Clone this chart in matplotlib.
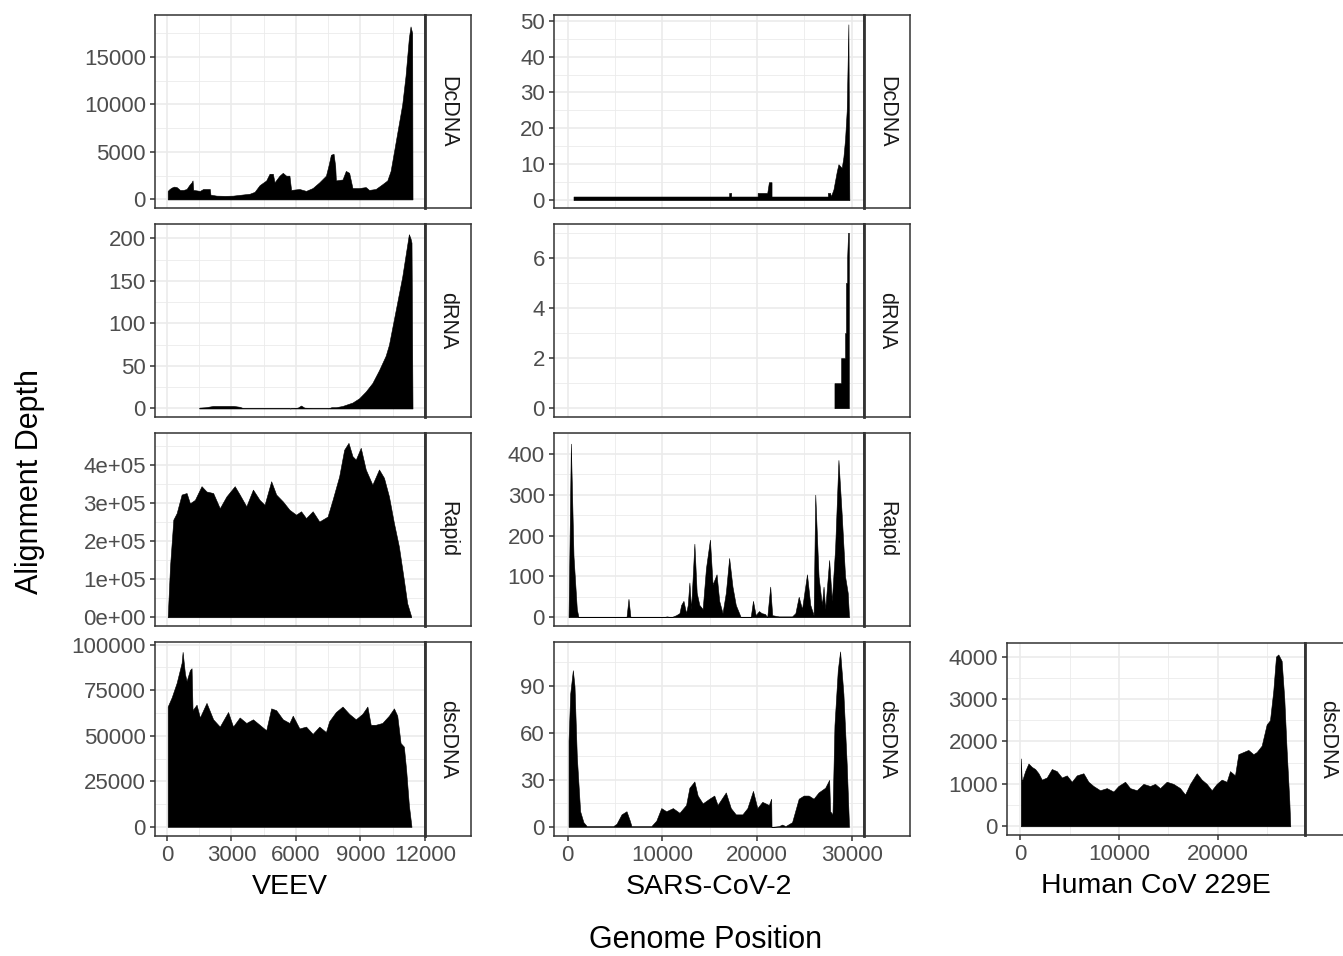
import numpy as np
import matplotlib
matplotlib.use("Agg")
import matplotlib.pyplot as plt
from matplotlib.ticker import FixedLocator

plt.rcParams['font.family'] = ['Liberation Sans', 'DejaVu Sans']

W, H = 1343, 956

# coverage: (genome position, alignment depth)
veev_dcdna = [(31, 900), (120, 1100), (216, 1250), (330, 1350), (448, 1300), (602, 1000),
              (760, 1000), (911, 1100), (1030, 1500), (1143, 1800), (1189, 2000), (1220, 1000),
              (1380, 950), (1529, 900), (1683, 1100), (1850, 1100), (1992, 1100), (2023, 500),
              (2301, 400), (2700, 380), (3073, 400), (3450, 500), (3846, 600), (4077, 800),
              (4309, 1500), (4618, 2000), (4772, 2700), (4927, 2700), (5004, 1800), (5236, 2500),
              (5390, 2800), (5544, 2500), (5699, 2500), (5776, 1000), (6162, 1100), (6471, 900),
              (6780, 1200), (7089, 1800), (7398, 2500), (7521, 3600), (7629, 4700), (7753, 4800),
              (7830, 3500), (7861, 2000), (8170, 2100), (8324, 3000), (8479, 2800), (8633, 1200),
              (8942, 1200), (9251, 1300), (9405, 1000), (9714, 1100), (10023, 1600), (10255, 2000),
              (10409, 3000), (10564, 5000), (10718, 7000), (10950, 10000), (11104, 13000),
              (11259, 17000), (11336, 18200), (11413, 17500), (11429, 0)]
veev_drna = [(1498, 1), (1800, 1.5), (2147, 3), (2700, 3), (3100, 3), (3382, 2), (3537, 0.5),
             (5699, 0.5), (5740, 0), (5776, 0.5), (6085, 1), (6239, 3.5), (6394, 1), (6780, 0.5),
             (7552, 0.5), (7650, 1.5), (7861, 1.5), (8170, 3), (8633, 7), (8942, 12), (9251, 20),
             (9560, 30), (9869, 45), (10178, 62), (10332, 75), (10486, 95), (10641, 115),
             (10795, 135), (10950, 155), (11104, 180), (11259, 205), (11336, 200), (11382, 195),
             (11429, 0)]
veev_rapid = [(31, 0), (139, 134e3), (293, 257e3), (448, 274e3), (680, 323e3), (911, 327e3),
              (1066, 300e3), (1297, 309e3), (1606, 345e3), (1838, 331e3), (2147, 327e3),
              (2456, 287e3), (2764, 318e3), (3151, 345e3), (3382, 323e3), (3691, 292e3),
              (4000, 336e3), (4309, 309e3), (4541, 296e3), (4849, 358e3), (5081, 323e3),
              (5390, 305e3), (5699, 283e3), (6008, 270e3), (6239, 279e3), (6471, 261e3),
              (6780, 279e3), (7089, 252e3), (7475, 265e3), (7707, 309e3), (8015, 371e3),
              (8247, 441e3), (8448, 459e3), (8633, 424e3), (8788, 415e3), (9019, 446e3),
              (9251, 389e3), (9560, 349e3), (9869, 389e3), (10100, 367e3), (10332, 318e3),
              (10564, 248e3), (10795, 186e3), (11027, 98e3), (11181, 37e3), (11367, 2e3)]
veev_dscdna = [(31, 66e3), (216, 71e3), (448, 79e3), (680, 90e3), (726, 96e3), (834, 84e3),
               (911, 80e3), (1066, 86e3), (1143, 87e3), (1189, 64e3), (1375, 67e3), (1529, 60e3),
               (1838, 68e3), (2147, 59e3), (2456, 55e3), (2842, 63e3), (3073, 55e3), (3382, 60e3),
               (3691, 57e3), (4000, 59e3), (4309, 56e3), (4618, 53e3), (4849, 65e3), (5081, 64e3),
               (5390, 59e3), (5699, 57e3), (5853, 61e3), (6162, 54e3), (6471, 55e3), (6780, 51e3),
               (7089, 55e3), (7398, 52e3), (7552, 58e3), (7861, 63e3), (8170, 66e3), (8479, 62e3),
               (8788, 59e3), (9096, 62e3), (9328, 66e3), (9483, 56e3), (9714, 56e3), (10023, 57e3),
               (10332, 61e3), (10564, 65e3), (10718, 61e3), (10873, 46e3), (11027, 44e3),
               (11135, 31e3), (11259, 12e3), (11382, 0)]

sars_dcdna = [(629, 1), (17063, 1), (17063, 2), (17273, 2), (17273, 1), (20070, 1), (20070, 2),
              (21084, 2), (21259, 5), (21538, 5), (21538, 1), (27483, 1), (27483, 2), (27727, 2),
              (27800, 1), (28077, 3), (28427, 8), (28601, 10), (28951, 9), (29126, 12),
              (29301, 17), (29476, 25), (29650, 49), (29755, 0)]
sars_drna = [(28180, 1), (28880, 1), (28880, 2), (29300, 2), (29300, 3), (29400, 3), (29400, 5),
             (29520, 5), (29520, 6), (29620, 7), (29700, 7), (29700, 0)]
sars_rapid = [(105, 0), (350, 425), (629, 150), (979, 20), (1154, 0), (6224, 0), (6434, 45),
              (6643, 0), (10070, 0), (10490, 2), (10944, 0), (11469, 5), (11818, 10), (11993, 30),
              (12238, 40), (12517, 10), (12692, 30), (12867, 85), (13042, 20), (13392, 180),
              (13636, 60), (13916, 30), (14266, 20), (14615, 120), (15035, 190), (15315, 80),
              (15734, 105), (16014, 40), (16364, 10), (16713, 60), (17063, 145), (17413, 75),
              (17762, 30), (18112, 10), (18287, 0), (19336, 0), (19580, 40), (19860, 5),
              (20210, 15), (20490, 10), (20839, 8), (21084, 0), (21399, 75), (21608, 5),
              (22308, 2), (23706, 2), (24056, 10), (24406, 50), (24755, 20), (25280, 105),
              (25629, 30), (25979, 5), (26154, 300), (26503, 100), (26853, 30), (27028, 75),
              (27203, 20), (27622, 140), (27902, 40), (28252, 170), (28601, 385), (28951, 250),
              (29301, 100), (29580, 60), (29720, 0)]
sars_dscdna = [(105, 55), (280, 85), (559, 100), (734, 90), (979, 45), (1329, 10), (1678, 3),
               (2028, 0.5), (4825, 0.5), (5175, 2), (5699, 8), (6224, 10), (6573, 4), (6748, 0.5),
               (8846, 0.5), (9371, 4), (9895, 12), (10420, 10), (11119, 12), (11818, 9),
               (12517, 14), (12867, 25), (13392, 29), (13741, 20), (14266, 15), (14965, 18),
               (15490, 20), (15839, 14), (16713, 22), (17238, 12), (17762, 8), (18462, 8),
               (18986, 12), (19580, 23), (20035, 12), (20559, 16), (21259, 14), (21503, 18),
               (21538, 0), (22308, 0.5), (22657, 1.5), (23007, 0.5), (23706, 3), (24406, 18),
               (24930, 20), (25455, 20), (25979, 18), (26503, 22), (27203, 25), (27622, 30),
               (27727, 10), (27972, 8), (28182, 65), (28531, 100), (28776, 112), (29126, 85),
               (29476, 40), (29720, 0)]

hcov_dscdna = [(67, 1600), (169, 1050), (506, 1300), (843, 1480), (1180, 1400), (1518, 1350),
               (1855, 1250), (2192, 1100), (2698, 1150), (3204, 1350), (3710, 1300), (4216, 1150),
               (4722, 1200), (5228, 1050), (5734, 1200), (6408, 1250), (6914, 1050), (7420, 950),
               (8094, 850), (8769, 900), (9444, 820), (9949, 950), (10624, 1050), (11130, 900),
               (11804, 850), (12479, 1000), (13153, 950), (13659, 1000), (14165, 900),
               (14840, 1050), (15514, 1000), (16189, 900), (16695, 750), (17201, 1000),
               (17875, 1250), (18381, 1100), (18887, 1000), (19393, 850), (19899, 1000),
               (20405, 1100), (20911, 1050), (21248, 1300), (21754, 1200), (22091, 1700),
               (22597, 1750), (23103, 1800), (23609, 1700), (23946, 1750), (24452, 1900),
               (24958, 2400), (25295, 2500), (25632, 3200), (25902, 4000), (26138, 4050),
               (26475, 3900), (26745, 3000), (26981, 1800), (27251, 600), (27352, 0)]

rows = ["DcDNA", "dRNA", "Rapid", "dscDNA"]
viruses = ["VEEV", "SARS-CoV-2", "Human CoV 229E"]

# pixel boxes of panels (left, right, strip right) per column and (top, bottom) per row
col_px = [(155, 425, 471), (554, 864, 910), (1007, 1305, 1351)]
row_px = [(15, 208), (224, 417), (433, 626), (642, 836)]

xlims = [(-560, 12010), (-1430, 31300), (-1330, 28840)]
xticks = [[0, 3000, 6000, 9000, 12000], [0, 10000, 20000, 30000], [0, 10000, 20000]]

panels = {
    (0, 0): (veev_dcdna, (-900, 19400), [0, 5000, 10000, 15000], None),
    (0, 1): (sars_dcdna, (-2.2, 51.6), [0, 10, 20, 30, 40, 50], None),
    (1, 0): (veev_drna, (-10, 217), [0, 50, 100, 150, 200], None),
    (1, 1): (sars_drna, (-0.35, 7.35), [0, 2, 4, 6], None),
    (2, 0): (veev_rapid, (-23000, 485000), [0, 1e5, 2e5, 3e5, 4e5],
             ["0e+00", "1e+05", "2e+05", "3e+05", "4e+05"]),
    (2, 1): (sars_rapid, (-21.5, 451), [0, 100, 200, 300, 400], None),
    (3, 0): (veev_dscdna, (-5000, 101400), [0, 25000, 50000, 75000, 100000], None),
    (3, 1): (sars_dscdna, (-5.8, 118), [0, 30, 60, 90], None),
    (3, 2): (hcov_dscdna, (-205, 4320), [0, 1000, 2000, 3000, 4000], None),
}

fig = plt.figure(figsize=(W / 100, H / 100), dpi=100)


def box(l, t, r, b):
    return [l / W, 1 - b / H, (r - l) / W, (b - t) / H]


def minors(major, lim):
    step = major[1] - major[0]
    cand = [major[0] - step / 2] + [m + step / 2 for m in major]
    return [c for c in cand if lim[0] <= c <= lim[1]]


edge = '#333333'
for (r, c), (pairs, ylim, yt, ylab) in panels.items():
    left, right, sright = col_px[c]
    top, bot = row_px[r]
    if c == 2:
        top, bot = 643, 835
    ax = fig.add_axes(box(left, top, right, bot))
    pos, depth = np.array(pairs, dtype=float).T
    ax.fill_between(pos, depth, 0, color='black', lw=0.4, edgecolor='black')
    ax.set_xlim(*xlims[c])
    ax.set_ylim(*ylim)
    ax.set_xticks(xticks[c])
    ax.set_yticks(yt)
    ax.xaxis.set_minor_locator(FixedLocator(minors(xticks[c], xlims[c])))
    ax.yaxis.set_minor_locator(FixedLocator(minors(yt, ylim)))
    if ylab:
        ax.set_yticklabels(ylab)
    else:
        ax.set_yticklabels([f"{v:g}" for v in yt])
    ax.set_axisbelow(True)
    ax.grid(which='major', color='#ebebeb', lw=1.2)
    ax.grid(which='minor', color='#ebebeb', lw=0.6)
    ax.tick_params(which='minor', length=0)
    ax.tick_params(which='major', length=3.5, width=1.1, color=edge,
                   labelsize=16, labelcolor='#4d4d4d', pad=3)
    if r == 3:
        ax.set_xticklabels([f"{v:g}" for v in xticks[c]])
        ax.set_xlabel(viruses[c], fontsize=20.5, color='black', labelpad=6)
    else:
        ax.tick_params(axis='x', length=0, labelbottom=False)
    for s in ax.spines.values():
        s.set_color(edge)
        s.set_linewidth(1.1)

    sx = fig.add_axes(box(right, top, sright, bot))
    sx.set_xticks([])
    sx.set_yticks([])
    for s in sx.spines.values():
        s.set_color(edge)
        s.set_linewidth(1.1)
    sx.spines['left'].set_linewidth(2)
    sx.text(0.5, 0.5, rows[r], rotation=-90, ha='center', va='center',
            fontsize=15.5, color='#1a1a1a', transform=sx.transAxes)

fig.text(706 / W, 1 - 940 / H, "Genome Position", ha='center', va='center', fontsize=22)
fig.text(30 / W, 1 - 482 / H, "Alignment Depth", ha='center', va='center',
         rotation=90, fontsize=22)

fig.savefig("out.png", dpi=100)
